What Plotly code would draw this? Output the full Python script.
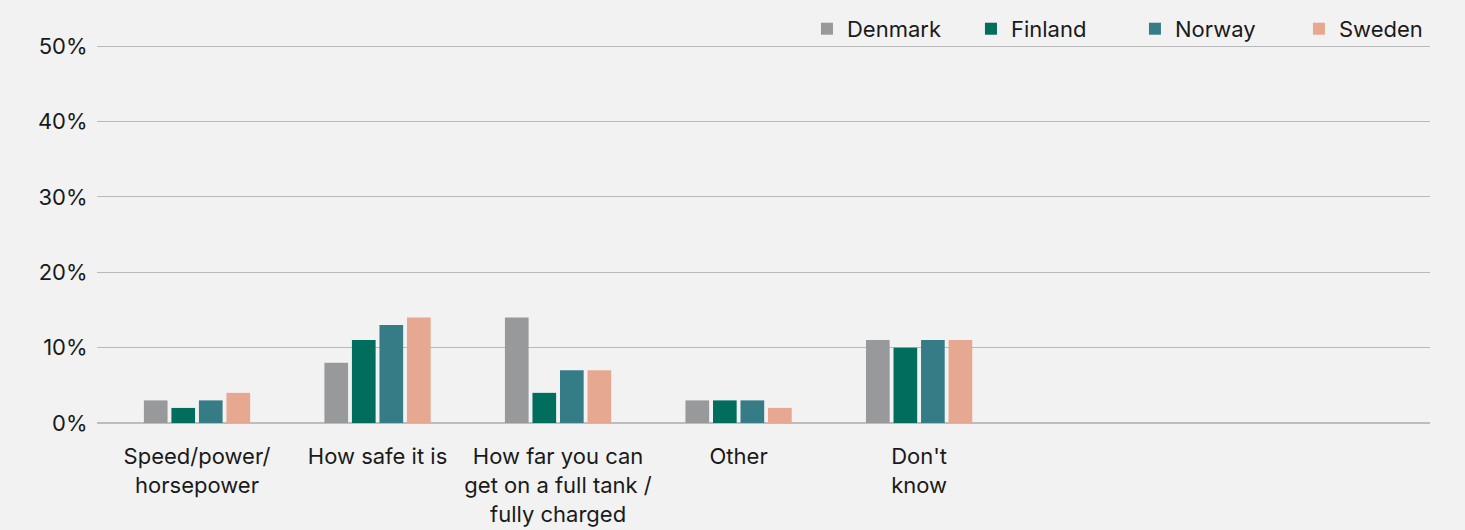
import plotly.graph_objects as go

categories = ["Speed/power/<br>horsepower", "How safe it is",
              "How far you can<br>get on a full tank /<br>fully charged",
              "Other", "Don't<br>know"]
denmark = [3, 8, 14, 3, 11]
finland = [2, 11, 4, 3, 10]
norway = [3, 13, 7, 3, 11]
sweden = [4, 14, 7, 2, 11]
y_ticks = [0, 10, 20, 30, 40, 50]
y_tick_labels = ["0%", "10%", "20%", "30%", "40%", "50%"]

series = [
    ("Denmark", denmark, "#98999b"),
    ("Finland", finland, "#006d5d"),
    ("Norway", norway, "#357c87"),
    ("Sweden", sweden, "#e6a890"),
]

FONT = "Inter, 'Open Sans', sans-serif"

fig = go.Figure()
for name, vals, col in series:
    fig.add_trace(go.Bar(
        x=categories, y=vals, name=name,
        marker=dict(color=col, line=dict(width=0)),
        hovertemplate="%{y}%<extra>" + name + "</extra>",
    ))

fig.update_layout(
    width=1465, height=530,
    paper_bgcolor="#f2f2f2", plot_bgcolor="#f2f2f2",
    margin=dict(l=97, r=35, t=45, b=107, autoexpand=False),
    barmode="group", bargap=0.39, bargroupgap=0.14,
    font=dict(family=FONT, size=22, color="#1a1a1a"),
    showlegend=True,
    legend=dict(orientation="h", x=0.5326, xanchor="left", y=0.987, yanchor="bottom",
                font=dict(size=22, color="#1a1a1a"), bgcolor="rgba(0,0,0,0)",
                entrywidth=119, entrywidthmode="pixels",
                traceorder="normal"),
    xaxis=dict(
        type="category", range=[-0.554, 6.83], automargin=False,
        showgrid=False, zeroline=False, showline=False,
        ticks="outside", ticklen=14, tickcolor="rgba(0,0,0,0)",
        tickfont=dict(size=22, color="#1a1a1a"),
    ),
    yaxis=dict(
        range=[0, 50.15], tickvals=y_ticks, ticktext=y_tick_labels, automargin=False,
        showgrid=True, gridcolor="#b9b9b9", gridwidth=1,
        zeroline=True, zerolinecolor="#bdbdbd", zerolinewidth=2,
        showline=False, ticks="outside", ticklen=4, tickcolor="rgba(0,0,0,0)",
        tickfont=dict(size=22, color="#1a1a1a"),
    ),
)

fig.write_html("out.html", config={"displayModeBar": False},
               post_script="document.body.style.margin='0';document.body.style.background='#f2f2f2';")
